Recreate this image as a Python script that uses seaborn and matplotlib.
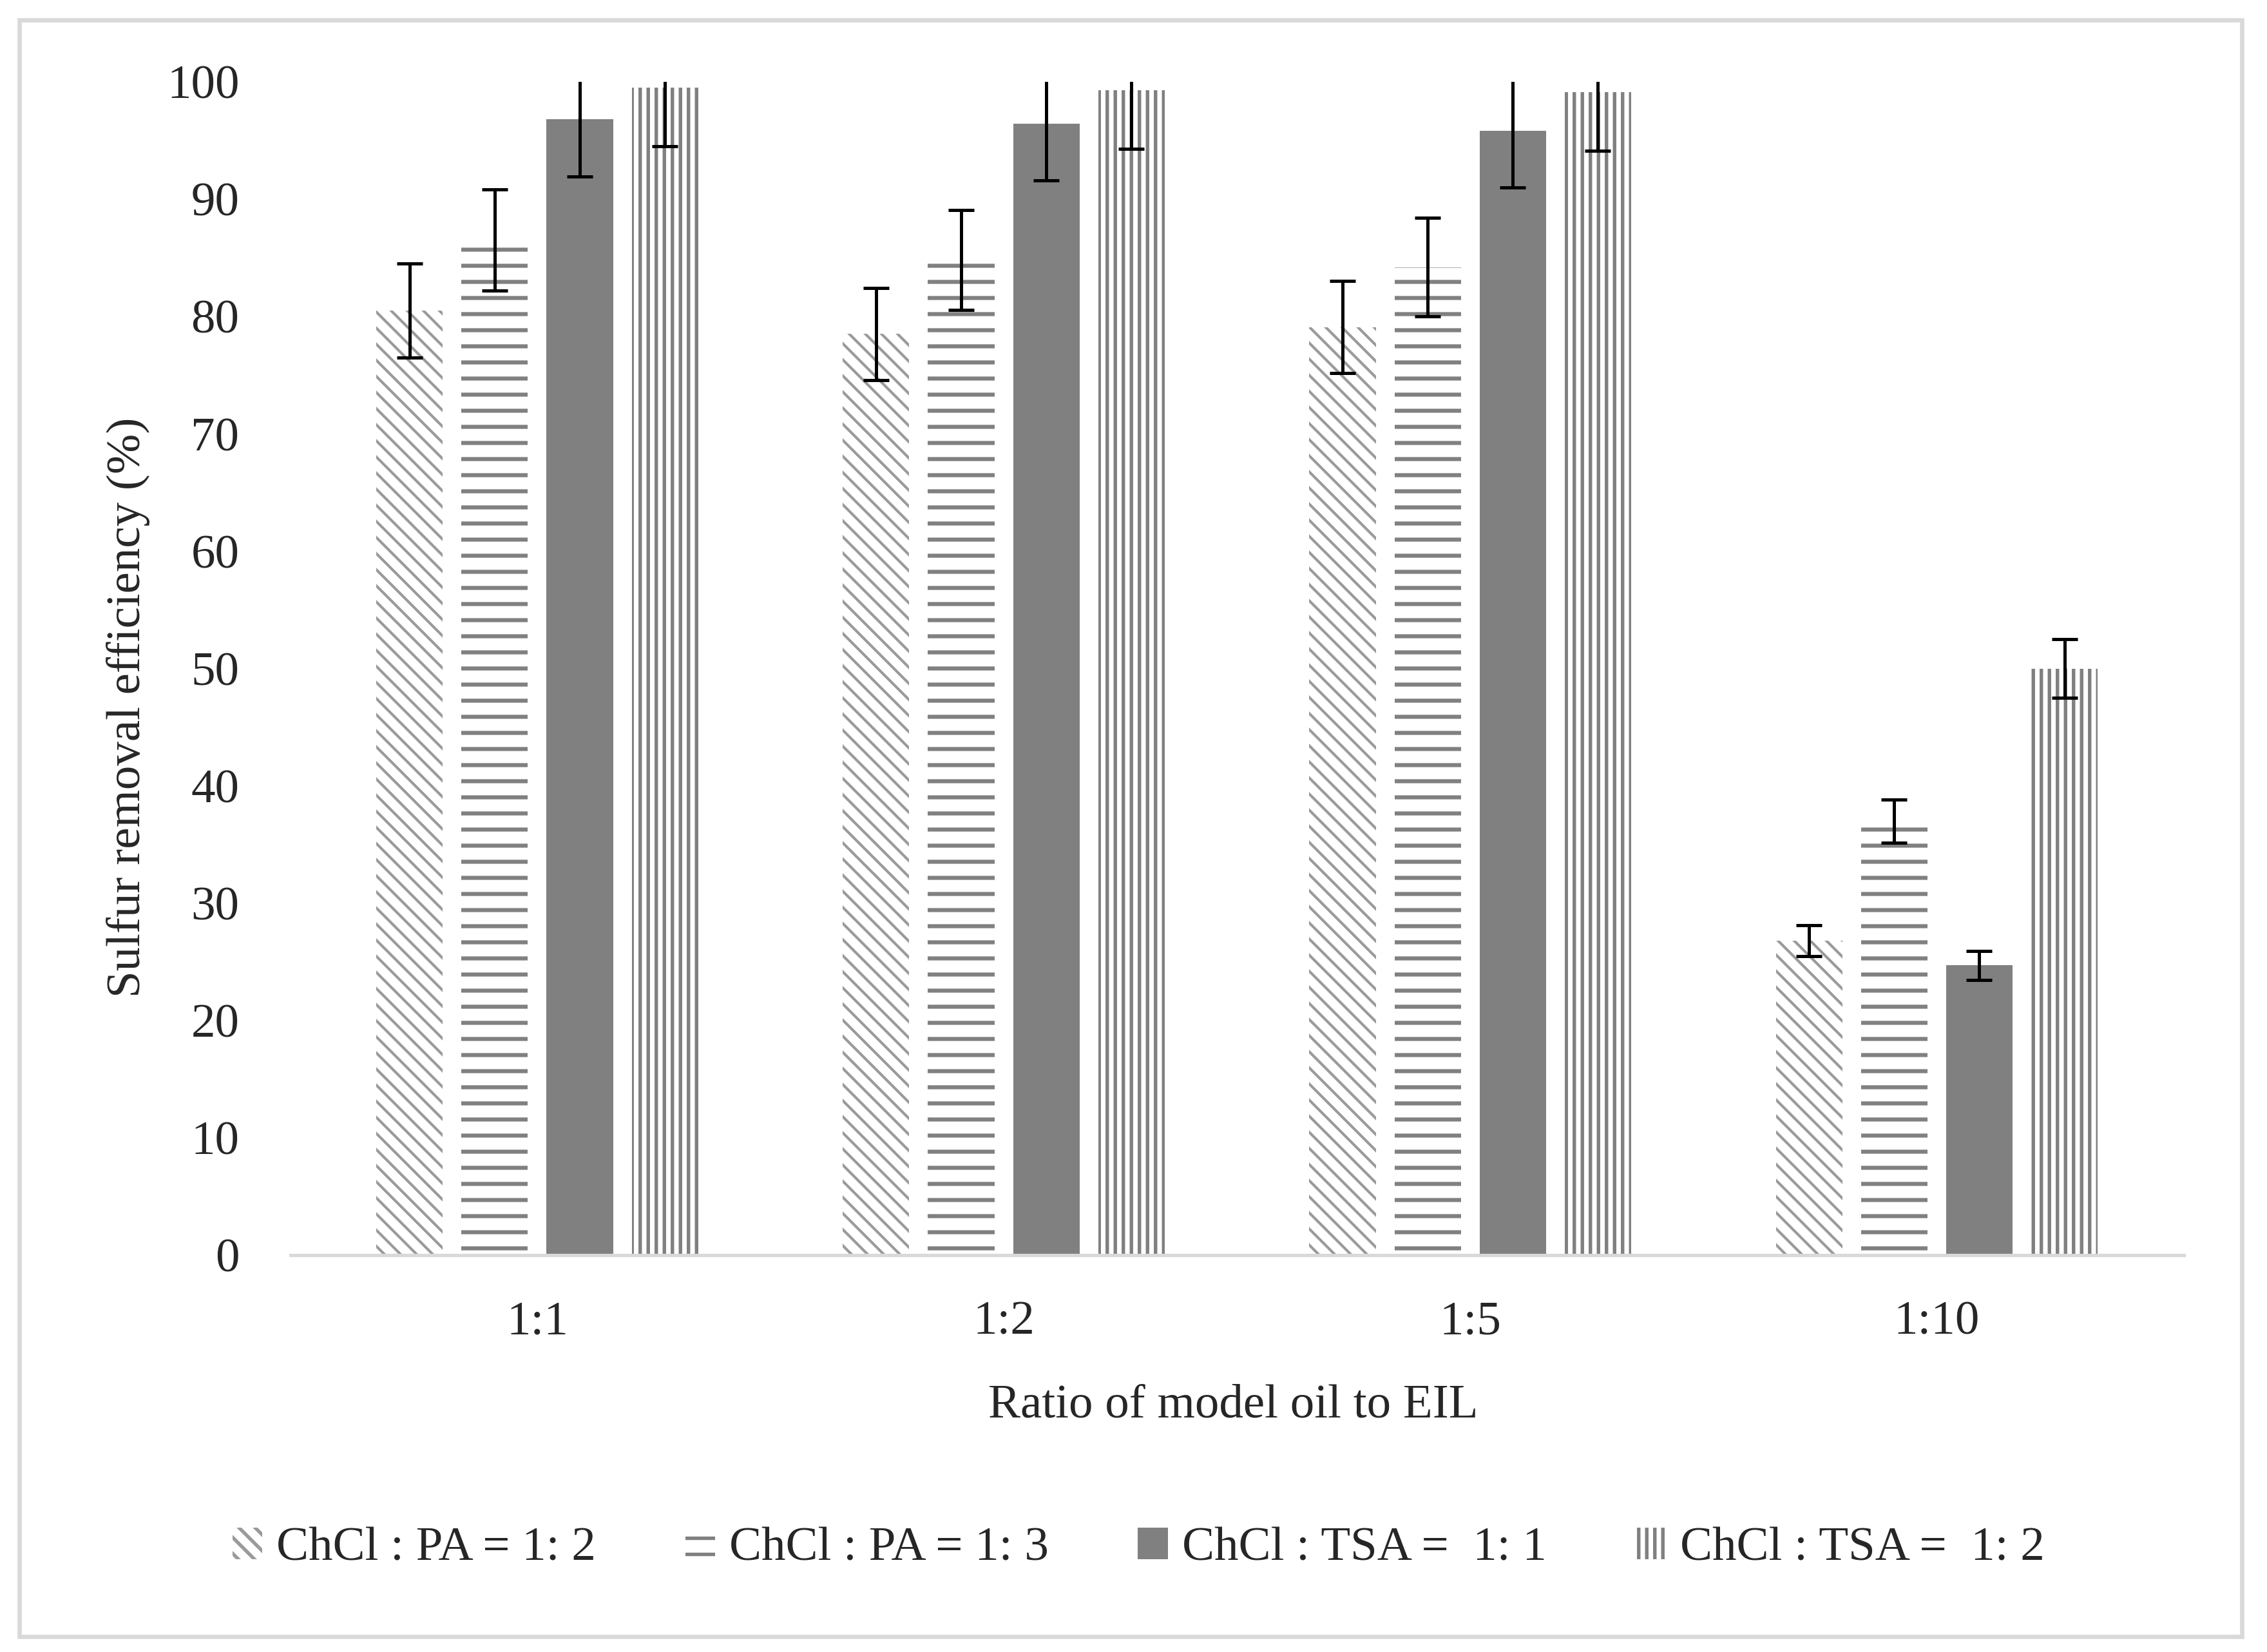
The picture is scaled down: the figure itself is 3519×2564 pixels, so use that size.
import numpy as np
import pandas as pd
import matplotlib
matplotlib.use("Agg")
import matplotlib.pyplot as plt
from matplotlib.patches import Rectangle
import seaborn as sns

# ---------------------------------------------------------------------------
# Data
# ---------------------------------------------------------------------------

ratios = ["1:1", "1:2", "1:5", "1:10"]
series = ["ChCl : PA = 1: 2", "ChCl : PA = 1: 3",
          "ChCl : TSA =  1: 1", "ChCl : TSA =  1: 2"]

pa_12 = [80.5, 78.5, 79.1, 26.8]
pa_13 = [86.5, 84.8, 84.2, 37.0]
tsa_11 = [96.8, 96.4, 95.8, 24.7]
tsa_12 = [99.5, 99.3, 99.1, 50.0]

pa_12_err = [4.0, 3.9, 3.95, 1.3]
pa_13_err = [4.3, 4.25, 4.2, 1.85]
tsa_11_err = [4.9, 4.8, 4.8, 1.25]
tsa_12_err = [5.0, 5.0, 5.0, 2.5]

values = [pa_12, pa_13, tsa_11, tsa_12]
errors = [pa_12_err, pa_13_err, tsa_11_err, tsa_12_err]

# ---------------------------------------------------------------------------
# Styling
# ---------------------------------------------------------------------------

GRAY = "#808080"
LIGHT = "#d9d9d9"
FONT_SIZE = 36

sns.set_style("white")
plt.rcParams["font.family"] = ["Liberation Serif", "DejaVu Serif"]
plt.rcParams["hatch.linewidth"] = 2.6
plt.rcParams["hatch.color"] = GRAY

df = pd.DataFrame({
    "ratio": np.repeat(ratios, len(series)),
    "series": series * len(ratios),
    "value": [values[j][i] for i in range(len(ratios)) for j in range(len(series))],
})

fig = plt.figure(figsize=(3520 / 150, 2564 / 150), dpi=150)
ax = fig.add_axes([0.128, 0.2402, 0.835, 0.7103])

sns.barplot(data=df, x="ratio", y="value", hue="series",
            order=ratios, hue_order=series, palette=[GRAY] * 4,
            width=0.73, gap=0.22, errorbar=None, legend=False, ax=ax)

# per-series fill: dense diagonal, horizontal lines, solid, vertical lines
hatches = ["\\\\", "-", "", "||"]
faces = ["white", "white", GRAY, "white"]
hatch_cols = ["#9a9a9a", GRAY, GRAY, GRAY]
hatch_lws = [2.0, 3.0, 2.6, 2.6]

bar_containers = list(ax.containers)
for k, cont in enumerate(bar_containers):
    xs, ys, es = [], [], []
    for p in cont.patches:
        p.set_facecolor(faces[k])
        p.set_edgecolor(hatch_cols[k])
        p.set_linewidth(0)
        p.set_hatch(hatches[k])
        if hasattr(p, "set_hatch_linewidth"):
            p.set_hatch_linewidth(hatch_lws[k])
        cx = p.get_x() + p.get_width() / 2
        i = int(round(cx))
        xs.append(cx)
        ys.append(values[k][i])
        es.append(errors[k][i])
    ax.errorbar(xs, ys, yerr=es, fmt="none", ecolor="black",
                elinewidth=2.4, capsize=9.4, capthick=2.4, zorder=5)

ax.set_ylim(0, 100)
ax.set_yticks(range(0, 101, 10))
ax.tick_params(axis="y", length=0, pad=38, labelsize=FONT_SIZE)
ax.tick_params(axis="x", length=0, pad=34, labelsize=FONT_SIZE)

for side in ["top", "right", "left"]:
    ax.spines[side].set_visible(False)
ax.spines["bottom"].set_color(LIGHT)
ax.spines["bottom"].set_linewidth(2.5)

ax.set_ylabel("Sulfur removal efficiency (%)", fontsize=FONT_SIZE)
ax.yaxis.set_label_coords(-0.074, 0.467)
ax.set_xlabel("Ratio of model oil to EIL", fontsize=FONT_SIZE)
ax.xaxis.set_label_coords(0.498, -0.110)
ax.xaxis.label.set_va("top")

handles = [c.patches[0] for c in bar_containers]
fig.legend(handles, series, loc="center", bbox_to_anchor=(0.502, 0.0624),
           ncol=4, frameon=False, fontsize=FONT_SIZE,
           handlelength=0.62, handleheight=0.62, handletextpad=0.29,
           columnspacing=1.85)

# outer border like the original
fig.patches.append(Rectangle((0.0085, 0.0094), 0.980, 0.9786,
                             transform=fig.transFigure, fill=False,
                             edgecolor=LIGHT, linewidth=3.2))

fig.savefig("out.png", dpi=150, facecolor="white")
plt.close(fig)
